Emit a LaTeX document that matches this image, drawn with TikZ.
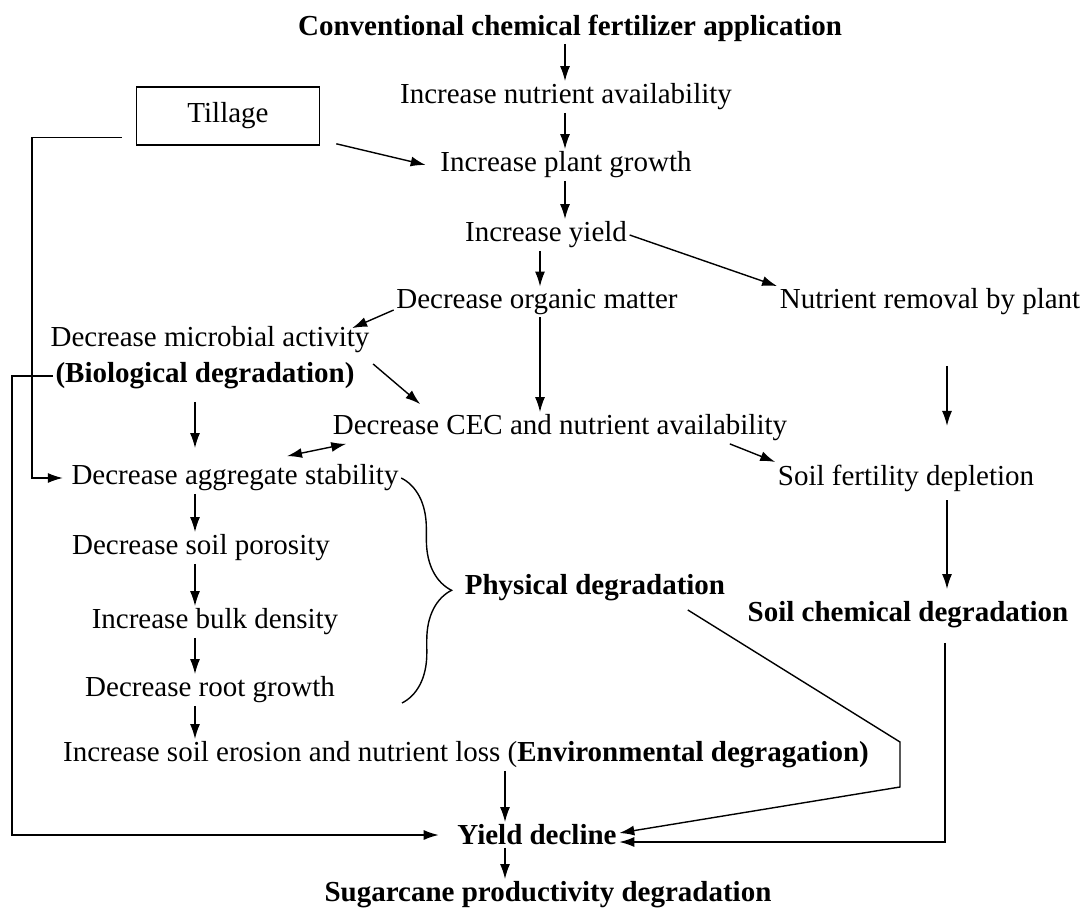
\documentclass[tikz,border=0pt]{standalone}
\usepackage{fontspec}
\setmainfont{Liberation Serif}
\usetikzlibrary{positioning,arrows.meta,decorations.pathreplacing}
\tikzset{
  flow/.style={x=0.5pt,y=-0.5pt,line width=0.7pt,on grid,
    every node/.style={font=\fontsize{14.5}{17}\selectfont,inner sep=1pt},
    >={Latex[length=7.5pt,width=5pt]}},
  lbl/.style={font=\fontsize{14.5}{17}\selectfont\bfseries},
  box/.style={draw,line width=0.8pt,minimum width=91.5pt,minimum height=29pt},
  brc/.style={decorate,decoration={brace,amplitude=25pt}},
}

\begin{document}
\begin{tikzpicture}[flow]
  \useasboundingbox (0,0) rectangle (1086,914);
  % guide columns for the straight arrows
  \coordinate (c1) at (565,0);
  \coordinate (c2) at (540,0);
  \coordinate (c3) at (195,0);
  \coordinate (c4) at (947,0);
  \coordinate (c5) at (505,0);
  \coordinate (c6) at (945,0);
  \coordinate (tl) at (32,0);
  \coordinate (ol) at (12,0);

  % main column
  \node[lbl] (conv) at (570,28) {Conventional chemical fertilizer application};
  \node (nutr) [below=34.5pt of conv, xshift=-2pt] {Increase nutrient availability};
  \node (plant) [below=34pt of nutr] {Increase plant growth};
  \node (yield) [below=35pt of plant, xshift=-10pt] {Increase yield};
  \node (orgm) [below=33.5pt of yield, xshift=-4.5pt] {Decrease organic matter};
  \node (remv) [right=196.5pt of orgm] {Nutrient removal by plant};
  \node (cec) [below=63pt of orgm, xshift=11.5pt] {Decrease CEC and nutrient availability};
  \node (fert) [below=88pt of remv, xshift=-12pt] {Soil fertility depletion};
  \node[lbl] (chem) [below=68.5pt of fert, xshift=1pt] {Soil chemical degradation};
  \node[box] (till) at (228,116) {Tillage};

  % left column
  \node (micr) at (210,340) {Decrease microbial activity};
  \node[lbl] (bio) [below=18pt of micr, xshift=-2.5pt] {(Biological degradation)};
  \node (aggr) [below=51pt of bio, xshift=15pt] {Decrease aggregate stability};
  \node (poro) [below=35pt of aggr, xshift=-17pt] {Decrease soil porosity};
  \node (bulk) [below=37pt of poro, xshift=7pt] {Increase bulk density};
  \node (root) [below=34pt of bulk, xshift=-2.5pt] {Decrease root growth};
  \node[lbl] (phys) at (595,588) {Physical degradation};
  \node (eros) [below=32.5pt of root, xshift=128pt] {Increase soil erosion and nutrient loss (\textbf{Environmental degragation)}};
  \node[lbl] (ydec) [below=40pt of eros, xshift=35.5pt] {Yield decline};
  \node[lbl] (sugar) [below=30pt of ydec, xshift=5.5pt] {Sugarcane productivity degradation};

  % arrows
  \draw[->] (conv.south -| c1) -- (nutr.north -| c1);
  \draw[->] (nutr.south -| c1) -- (plant.north -| c1);
  \draw[->] (plant.south -| c1) -- (yield.north -| c1);
  \draw[->] ([xshift=8pt,yshift=1pt]till.south east) -- ([xshift=-6pt]plant.west);
  \draw[->] (yield.south -| c2) -- (orgm.north -| c2);
  \draw[->] (yield.east) -- (remv.north west);
  \draw[->] ([yshift=-4pt]orgm.west) -- ([xshift=-10pt,yshift=-2pt]micr.north east);
  \draw[->] (orgm.south -| c2) -- (cec.north -| c2);
  \draw[->] ([xshift=8pt,yshift=6pt]bio.east) -- ([xshift=45pt,yshift=4pt]cec.north west);
  \draw[<->] ([xshift=26pt,yshift=3pt]aggr.north) -- ([xshift=8pt]cec.south west);
  \draw[->] ([xshift=-30pt]cec.south east) -- (fert.north west);
  \draw[->] ([yshift=-24pt]remv.south -| c4) -- ([yshift=18pt]fert.north -| c4);
  \draw[->] ([yshift=-3pt]fert.south -| c4) -- ([yshift=5pt]chem.north -| c4);
  \draw[->] ([yshift=-5pt]bio.south -| c3) -- ([yshift=7pt]aggr.north -| c3);
  \draw[->] (aggr.south -| c3) -- (poro.north -| c3);
  \draw[->] (poro.south -| c3) -- (bulk.north -| c3);
  \draw[->] (bulk.south -| c3) -- (root.north -| c3);
  \draw[->] (root.south -| c3) -- (eros.north -| c3);
  \draw[->] (eros.south -| c5) -- (ydec.north -| c5);
  \draw[->] (ydec.south -| c5) -- (sugar.north -| c5);

  % long connectors
  \draw[->,shorten >=3pt] ([xshift=-7pt,yshift=4pt]till.south west) -| (aggr.west -| tl) -- (aggr.west);
  \draw[->,shorten >=8pt] (bio.west) -| (ydec.west -| ol) -- (ydec.west);
  \draw[->] ([xshift=-20pt,yshift=-3pt]phys.south east) -- (900,742) -- (900,787) -- ([yshift=1pt]ydec.east);
  \draw[->] ([yshift=-6pt]chem.south -| c6) |- ([yshift=-3.5pt]ydec.east);

  % brace for the physical group
  \draw[brc] (aggr.east) -- (402,703);
\end{tikzpicture}
\end{document}
